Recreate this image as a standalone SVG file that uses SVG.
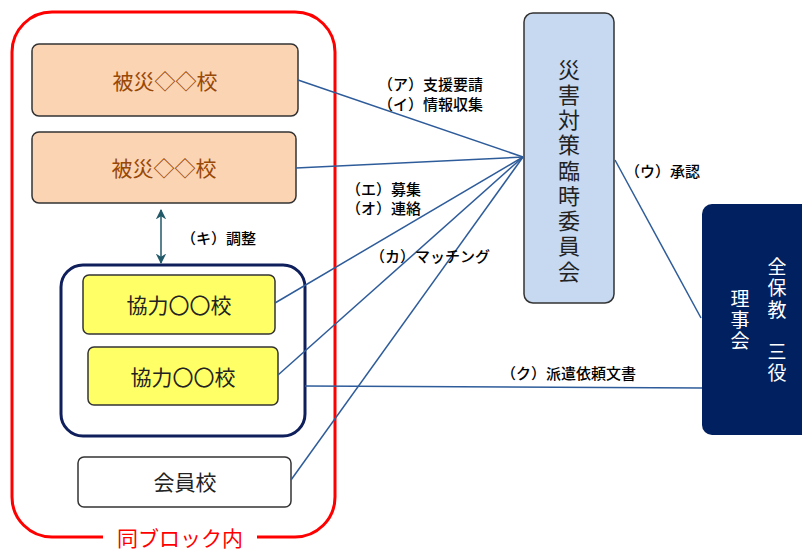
<svg xmlns="http://www.w3.org/2000/svg" width="802" height="551" viewBox="0 0 802 551">
<style>
text{font-family:"Noto Sans CJK JP","Noto Sans",sans-serif;}
.box{stroke:#333;stroke-width:1.5;}
.big{font-size:21px;text-anchor:middle;dominant-baseline:central;}
.lbl{font-size:15px;fill:#000;dominant-baseline:central;font-weight:500;}
.con{stroke:#2E5C9A;stroke-width:1.5;fill:none;}
.vt{font-size:22px;text-anchor:middle;writing-mode:vertical-rl;letter-spacing:3.25px;fill:#222;}
.vw{font-size:19px;text-anchor:middle;writing-mode:vertical-rl;letter-spacing:2.2px;fill:#fff;}
</style>
<defs>
<marker id="ah" viewBox="0 0 10 10" refX="9" refY="5" markerWidth="7" markerHeight="7" orient="auto-start-reverse">
<path d="M0,0 L10,5 L0,10 L3,5 z" fill="#215968"/>
</marker>
</defs>
<rect width="802" height="551" fill="#fff"/>
<g id="block">
<path d="M103,537 L52,537 A40,40 0 0 1 12,497 L12,52 A40,40 0 0 1 52,12 L295,12 A40,40 0 0 1 335,52 L335,497 A40,40 0 0 1 295,537 L257,537" fill="none" stroke="#FF0000" stroke-width="3"/>
<text class="big" x="180" y="537" fill="#FF0000">同ブロック内</text>
</g>
<g id="hisai1">
<rect class="box" x="32" y="44" width="266" height="72" rx="7" fill="#FBD4B4"/>
<text class="big" x="165" y="80" fill="#984807">被災◇◇校</text>
</g>
<g id="hisai2">
<rect class="box" x="32" y="132" width="264" height="71" rx="7" fill="#FBD4B4"/>
<text class="big" x="164" y="167" fill="#984807">被災◇◇校</text>
</g>
<g id="kyoryoku-group">
<rect x="61" y="265" width="244" height="171" rx="22" fill="#fff" stroke="#0F1F5C" stroke-width="3"/>
</g>
<g id="kyoryoku1">
<rect class="box" x="83" y="275" width="192" height="59" rx="6" fill="#FFFF66"/>
<text class="big" x="179" y="304" fill="#222">協力〇〇校</text>
</g>
<g id="kyoryoku2">
<rect class="box" x="88" y="347" width="190" height="58" rx="6" fill="#FFFF66"/>
<text class="big" x="183" y="376" fill="#222">協力〇〇校</text>
</g>
<g id="kaiin">
<rect class="box" x="78" y="457" width="213" height="50" rx="6" fill="#fff"/>
<text class="big" x="185" y="481" fill="#222">会員校</text>
</g>
<g id="committee">
<rect class="box" x="524" y="13" width="90" height="290" rx="9" fill="#C6D9F1"/>
<text class="vt" x="569" y="172">災害対策臨時委員会</text>
</g>
<g id="zenhokyo">
<rect x="702" y="204" width="120" height="231" rx="10" fill="#002060"/>
<text class="vw" x="777" y="321">全保教　三役</text>
<text class="vw" x="740" y="321">理事会</text>
</g>
<g id="connectors">
<line class="con" x1="298" y1="80" x2="523" y2="157"/>
<line class="con" x1="296" y1="168" x2="523" y2="157"/>
<line class="con" x1="275" y1="303" x2="523" y2="157"/>
<line class="con" x1="278" y1="375" x2="523" y2="157"/>
<line class="con" x1="291" y1="480" x2="523" y2="157"/>
<line class="con" x1="615" y1="160" x2="701" y2="318"/>
<line class="con" x1="305" y1="386" x2="702" y2="388"/>
<line x1="161" y1="210" x2="161" y2="263" stroke="#215968" stroke-width="1.5" marker-start="url(#ah)" marker-end="url(#ah)"/>
<text class="lbl" x="378" y="83">（ア）支援要請</text>
<text class="lbl" x="378" y="103">（イ）情報収集</text>
<text class="lbl" x="346" y="188">（エ）募集</text>
<text class="lbl" x="346" y="207">（オ）連絡</text>
<text class="lbl" x="370" y="255">（カ）マッチング</text>
<text class="lbl" x="625" y="170">（ウ）承認</text>
<text class="lbl" x="501" y="372">（ク）派遣依頼文書</text>
<text class="lbl" x="181" y="237">（キ）調整</text>
</g>
</svg>
